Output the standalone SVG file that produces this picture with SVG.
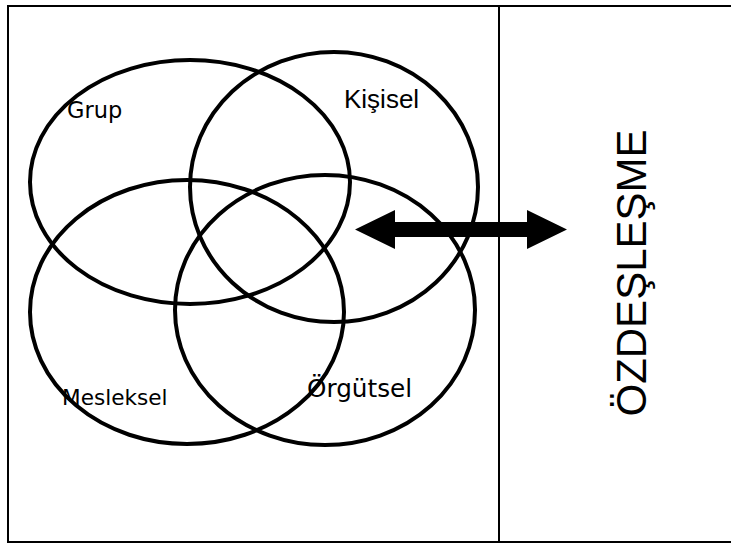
<svg xmlns="http://www.w3.org/2000/svg" width="731" height="547" viewBox="0 0 731 547">
<style>
.frame{fill:none;stroke:#000;stroke-width:2}
.ring{fill:none;stroke:#000;stroke-width:4}
.lbl{font-family:"DejaVu Sans",sans-serif;fill:#000}
.arial{font-family:"Liberation Sans",Arial,sans-serif;fill:#000}
</style>
<rect width="731" height="547" fill="#fff"/>
<g id="frame">
<rect class="frame" x="8" y="6" width="740" height="536"/>
<line class="frame" x1="499" y1="6" x2="499" y2="542"/>
</g>
<g id="grup">
<ellipse class="ring" cx="190" cy="182" rx="160" ry="122"/>
<text class="lbl" x="67" y="118" font-size="22.5">Grup</text>
</g>
<g id="kisisel">
<ellipse class="ring" cx="334" cy="187" rx="144" ry="135"/>
<text class="arial" x="344" y="108" font-size="26">Kişisel</text>
</g>
<g id="mesleksel">
<ellipse class="ring" cx="187" cy="312" rx="157" ry="132"/>
<text class="lbl" x="62" y="405" font-size="21.6">Mesleksel</text>
</g>
<g id="orgutsel">
<ellipse class="ring" cx="325" cy="310" rx="150" ry="135"/>
<text class="lbl" x="307" y="397" font-size="24.7">Örgütsel</text>
</g>
<g id="ozdeslesme">
<text class="arial" transform="translate(646,273) rotate(-90)" text-anchor="middle" font-size="42">ÖZDEŞLEŞME</text>
</g>
<g id="connectors">
<polygon fill="#000" points="355,229.5 395,210 395,222 527,222 527,210 567,229.5 527,249 527,237 395,237 395,249"/>
</g>
</svg>
